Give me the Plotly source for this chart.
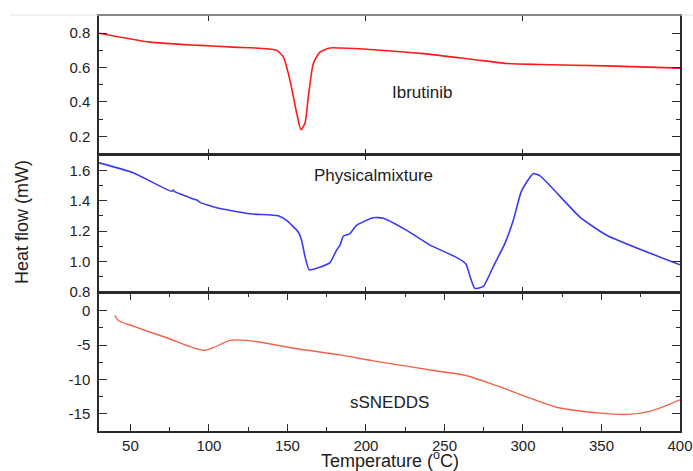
import plotly.graph_objects as go

# Ibrutinib (top panel)
ibr_x = [30, 62.5, 94.3, 115.5, 136.8, 143.2, 147.4, 151.6, 155.9, 158.6, 161.2, 163.3, 166.5, 170.7, 177.1, 183.5, 204.7, 236.6, 268.4, 289.6, 310.9, 353.3, 400]
ibr_y = [0.80, 0.748, 0.729, 0.719, 0.710, 0.700, 0.662, 0.527, 0.335, 0.239, 0.278, 0.431, 0.624, 0.690, 0.714, 0.714, 0.704, 0.681, 0.647, 0.624, 0.618, 0.610, 0.597]

# Physical mixture (middle panel)
pm_x = [30, 51.8, 76.0, 77.3, 78.2, 90.5, 92.2, 94.3, 104.9, 126.1, 144.2, 149.5, 156.9, 159.0, 161.2, 163.9, 170.7, 177.1, 181.3, 183.5, 185.6, 189.8, 194.0, 204.7, 211.1, 226.0, 240.8, 256.7, 263.7, 266.3, 269.4, 274.7, 281.1, 288.5, 293.8, 299.1, 306.5, 310.9, 336.3, 353.3, 400]
pm_y = [1.649, 1.584, 1.462, 1.470, 1.460, 1.410, 1.405, 1.389, 1.353, 1.314, 1.301, 1.270, 1.194, 1.140, 1.032, 0.945, 0.963, 0.993, 1.075, 1.108, 1.166, 1.184, 1.238, 1.288, 1.285, 1.205, 1.108, 1.032, 0.984, 0.901, 0.823, 0.836, 0.967, 1.119, 1.270, 1.465, 1.578, 1.563, 1.292, 1.173, 0.978]

# sSNEDDS (bottom panel)
ss_x = [40.1, 42.3, 51.8, 73.1, 96.4, 102.8, 113.4, 124.0, 158.0, 183.5, 204.7, 247.2, 264.1, 283.2, 300.2, 321.4, 349.4, 366.4, 381.2, 400]
ss_y = [-0.68, -1.44, -2.26, -3.95, -5.77, -5.39, -4.32, -4.32, -5.62, -6.44, -7.31, -8.85, -9.47, -10.91, -12.35, -14.04, -14.90, -15.09, -14.61, -12.97]

x_ticks_bottom = [50, 100, 150, 200, 250, 300, 350, 400]
bot_tickvals = [0, -5, -10, -15]
bot_ticktext = ["0", "-5", "-10", "-15"]

labels = ["Ibrutinib", "Physicalmixture", "sSNEDDS"]

PLOT_H = 415.0
LW = 1.5
gap = LW / PLOT_H  # small gap so the outward-drawn shared borders coincide

fig = go.Figure()
fig.add_trace(go.Scatter(x=ibr_x, y=ibr_y, mode="lines", line=dict(color="#FF1A1A", width=1.6, shape="spline", smoothing=0.6), xaxis="x", yaxis="y3"))
fig.add_trace(go.Scatter(x=pm_x, y=pm_y, mode="lines", line=dict(color="#3A3AF0", width=1.6, shape="spline", smoothing=0.5), xaxis="x2", yaxis="y2"))
fig.add_trace(go.Scatter(x=ss_x, y=ss_y, mode="lines", line=dict(color="#F0624A", width=1.4, shape="spline", smoothing=0.8), xaxis="x3", yaxis="y"))

LC = "#2a2a2a"
FONT = "Liberation Sans, Arial, sans-serif"
common_x = dict(range=[30, 400], showline=True, linecolor=LC, linewidth=LW, mirror="ticks", automargin=False,
                ticks="inside", ticklen=5, tickwidth=1.4, tickcolor=LC, showgrid=False, zeroline=False)
common_y = dict(showline=True, linecolor=LC, linewidth=LW, mirror="ticks", automargin=False,
                ticks="inside", ticklen=8, tickwidth=1.4, tickcolor=LC, showgrid=False, zeroline=False,
                ticklabelstandoff=4,
                tickfont=dict(size=15, color="#222", family=FONT))

fig.update_layout(
    width=693, height=471,
    margin=dict(l=99, r=13, t=16, b=40, autoexpand=False),
    paper_bgcolor="white", plot_bgcolor="white",
    showlegend=False,
    font=dict(family=FONT, color="#222"),
    xaxis=dict(**common_x, domain=[0, 1], anchor="y3", showticklabels=False, dtick=100, tick0=0),
    xaxis2=dict(**common_x, domain=[0, 1], anchor="y2", showticklabels=False, dtick=100, tick0=0),
    xaxis3=dict(**{**common_x, "ticklen": 7}, domain=[0, 1], anchor="y", tickvals=x_ticks_bottom,
                showticklabels=True, tickfont=dict(size=15, color="#222", family=FONT),
                minor=dict(ticks="inside", ticklen=4, dtick=25, tick0=0, tickcolor=LC, tickwidth=1.4)),
    yaxis=dict(**common_y, domain=[0, 1/3 - gap / 2], anchor="x3", range=[-17.5, 2.5],
               tickvals=bot_tickvals, ticktext=bot_ticktext,
               minor=dict(ticks="inside", ticklen=4, dtick=2.5, tick0=0, tickcolor=LC, tickwidth=1.4)),
    yaxis2=dict(**common_y, domain=[1/3 + gap / 2, 2/3 - gap / 2], anchor="x2", range=[0.8, 1.7], dtick=0.2, tick0=0, tickformat=".1f",
                minor=dict(ticks="inside", ticklen=4, dtick=0.1, tick0=0, tickcolor=LC, tickwidth=1.4)),
    yaxis3=dict(**common_y, domain=[2/3 + gap / 2, 1], anchor="x", range=[0.1, 0.9], dtick=0.2, tick0=0, tickformat=".1f",
                minor=dict(ticks="inside", ticklen=4, dtick=0.1, tick0=0, tickcolor=LC, tickwidth=1.4)),
)

fig.add_annotation(x=235.7, y=0.458, xref="x", yref="y3", text=labels[0], showarrow=False,
                   font=dict(size=17, family=FONT, color="#222"))
fig.add_annotation(x=204.5, y=1.563, xref="x2", yref="y2", text=labels[1], showarrow=False,
                   font=dict(size=17, family=FONT, color="#222"))
fig.add_annotation(x=214.7, y=-13.3, xref="x3", yref="y", text=labels[2], showarrow=False,
                   font=dict(size=17, family=FONT, color="#222"))

fig.add_annotation(x=0.5, y=(431 - 459) / PLOT_H, xref="paper", yref="paper", xanchor="center", yanchor="middle",
                   text="Temperature (<sup>o</sup>C)", showarrow=False,
                   font=dict(size=18, family=FONT, color="#222"))
fig.add_annotation(x=(22 - 99) / 581, y=(431 - 222) / PLOT_H, xref="paper", yref="paper",
                   xanchor="center", yanchor="middle", textangle=-90,
                   text="Heat flow (mW)", showarrow=False,
                   font=dict(size=18, family=FONT, color="#222"))

# faint frame line at the top of the image
fig.add_shape(type="line", xref="paper", yref="paper", x0=(10 - 99) / 581, x1=(693 - 99) / 581,
              y0=(431 - 15) / PLOT_H, y1=(431 - 15) / PLOT_H, line=dict(color="#DDE6EE", width=1))

fig.write_html("out.html", config={"displayModeBar": False},
               post_script="document.body.style.margin='0';document.body.style.overflow='hidden';")
